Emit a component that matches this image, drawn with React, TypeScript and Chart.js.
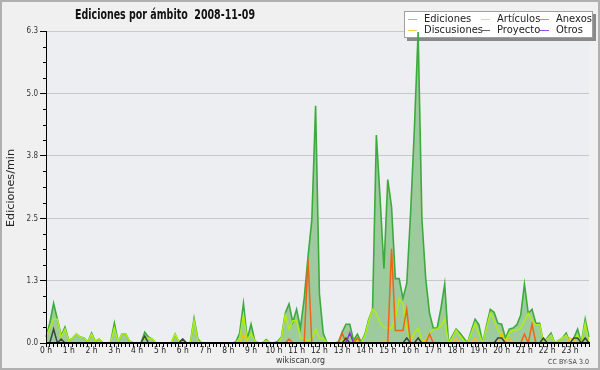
import React, { useEffect, useRef } from "react";
import { Chart, registerables } from "chart.js";

Chart.register(...registerables);

const TITLE = "Ediciones por ámbito  2008-11-09";
const Y_TITLE = "Ediciones/min";
const FOOTER = "wikiscan.org";
const LICENSE = "CC BY-SA 3.0";

const HOURS = [
  "0 h", "1 h", "2 h", "3 h", "4 h", "5 h", "6 h", "7 h", "8 h", "9 h", "10 h", "11 h",
  "12 h", "13 h", "14 h", "15 h", "16 h", "17 h", "18 h", "19 h", "20 h", "21 h", "22 h", "23 h",
];
const MINUTES = ["00", "10", "20", "30", "40", "50"];
const SLOTS = HOURS.flatMap((h) => MINUTES.map((m) => h.replace(" h", ":") + m));

const Y_TICKS = [0, 1.26, 2.52, 3.78, 5.04, 6.3];
const Y_LABELS = ["0.0", "1.3", "2.5", "3.8", "5.0", "6.3"];

// 10-minute slots, 12 per row (2 hours per row)
const EDICIONES = [
  0.12, 0.4, 0.8, 0.48, 0.15, 0.32, 0.05, 0.1, 0.18, 0.12, 0.1, 0.02,
  0.2, 0.03, 0.08, 0, 0, 0, 0.4, 0.02, 0.18, 0.18, 0.04, 0,
  0, 0, 0.22, 0.12, 0.08, 0, 0, 0, 0, 0, 0.18, 0.02,
  0.08, 0, 0, 0.5, 0.08, 0, 0, 0, 0, 0, 0, 0,
  0, 0, 0.02, 0.2, 0.8, 0.08, 0.38, 0.04, 0, 0, 0.07, 0,
  0, 0.03, 0.12, 0.6, 0.79, 0.42, 0.68, 0.3, 0.9, 1.74, 2.48, 4.79,
  1.0, 0.2, 0, 0, 0, 0.02, 0.22, 0.38, 0.38, 0.05, 0.18, 0.02,
  0.18, 0.48, 0.68, 4.2, 2.9, 1.5, 3.3, 2.75, 1.3, 1.3, 0.9, 1.2,
  2.6, 4.3, 6.28, 2.5, 1.3, 0.6, 0.3, 0.3, 0.7, 1.19, 0, 0.14,
  0.28, 0.2, 0.1, 0, 0.25, 0.48, 0.37, 0, 0.35, 0.68, 0.62, 0.4,
  0.38, 0.1, 0.28, 0.3, 0.37, 0.56, 1.19, 0.6, 0.68, 0.4, 0.4, 0,
  0.1, 0.2, 0, 0.05, 0.1, 0.2, 0, 0.1, 0.28, 0, 0.48, 0.12,
];

const ARTICULOS = [
  0.12, 0.3, 0.48, 0.48, 0.12, 0.28, 0.05, 0.1, 0.18, 0.12, 0.1, 0.02,
  0.18, 0.03, 0.08, 0, 0, 0, 0.3, 0.02, 0.18, 0.18, 0.04, 0,
  0, 0, 0.1, 0.1, 0.08, 0, 0, 0, 0, 0, 0.18, 0.02,
  0, 0, 0, 0.45, 0.05, 0, 0, 0, 0, 0, 0, 0,
  0, 0, 0, 0.1, 0.57, 0.05, 0.2, 0.04, 0, 0, 0.05, 0,
  0, 0, 0.1, 0.57, 0.28, 0.45, 0.45, 0.1, 0.1, 0.05, 0.1, 0.28,
  0.1, 0.1, 0, 0, 0, 0, 0.05, 0.1, 0.15, 0.02, 0.08, 0,
  0.15, 0.45, 0.68, 0.6, 0.4, 0.32, 0.3, 0.3, 0.5, 0.89, 0.8, 0.3,
  0.05, 0.2, 0.3, 0.05, 0.05, 0.2, 0.28, 0.28, 0.35, 0.48, 0, 0.1,
  0.26, 0.15, 0.05, 0, 0.2, 0.4, 0.2, 0, 0.3, 0.6, 0.45, 0.27,
  0.15, 0.05, 0.2, 0.26, 0.26, 0.3, 0.45, 0.6, 0.45, 0.37, 0.37, 0,
  0.08, 0.16, 0, 0.05, 0.1, 0.16, 0, 0.05, 0.16, 0, 0.4, 0,
];

const ANEXOS = [
  0, 0, 0, 0, 0, 0, 0, 0, 0, 0, 0, 0,
  0, 0, 0, 0, 0, 0, 0, 0, 0, 0, 0, 0,
  0, 0, 0, 0, 0, 0, 0, 0, 0, 0, 0, 0,
  0, 0, 0, 0, 0, 0, 0, 0, 0, 0, 0, 0,
  0, 0, 0, 0, 0, 0, 0, 0, 0, 0, 0, 0,
  0, 0, 0, 0, 0.08, 0, 0, 0, 0, 1.7, 0, 0,
  0, 0, 0, 0, 0, 0, 0.2, 0, 0, 0, 0.1, 0,
  0, 0, 0, 0, 0, 0, 0, 1.9, 0.25, 0.25, 0.25, 0.68,
  0, 0, 0, 0, 0, 0.18, 0, 0, 0, 0, 0, 0,
  0, 0, 0, 0, 0, 0, 0, 0, 0, 0, 0, 0,
  0, 0, 0, 0, 0, 0, 0.18, 0, 0.38, 0, 0, 0,
  0, 0, 0, 0, 0, 0, 0, 0, 0, 0, 0, 0,
];

const DISCUSIONES = [
  0, 0, 0, 0, 0, 0, 0, 0, 0, 0, 0, 0,
  0, 0, 0, 0, 0, 0, 0, 0, 0, 0, 0, 0,
  0, 0, 0, 0, 0, 0, 0, 0, 0, 0, 0, 0,
  0, 0, 0, 0, 0, 0, 0, 0, 0, 0, 0, 0,
  0, 0, 0, 0, 0.18, 0, 0, 0, 0, 0, 0, 0,
  0, 0, 0, 0, 0.05, 0, 0, 0, 0, 0, 0, 0,
  0, 0, 0, 0, 0, 0, 0, 0, 0, 0, 0, 0,
  0, 0, 0, 0, 0, 0.05, 0, 0, 0, 0, 0, 0,
  0, 0, 0, 0, 0.05, 0, 0, 0, 0, 0, 0, 0,
  0.1, 0, 0, 0, 0, 0.1, 0, 0, 0, 0, 0, 0,
  0.2, 0, 0.1, 0, 0, 0, 0, 0, 0, 0, 0, 0,
  0, 0, 0, 0, 0, 0, 0.1, 0.05, 0, 0, 0, 0,
];

const PROYECTO = [
  0, 0, 0.28, 0, 0.08, 0, 0, 0, 0, 0, 0, 0,
  0, 0, 0, 0, 0, 0, 0, 0, 0, 0, 0, 0,
  0, 0, 0.14, 0, 0, 0, 0, 0, 0, 0, 0, 0,
  0.08, 0, 0, 0, 0, 0, 0, 0, 0, 0, 0, 0,
  0, 0, 0, 0, 0, 0, 0, 0, 0, 0, 0, 0,
  0, 0, 0, 0, 0, 0, 0, 0, 0, 0, 0, 0,
  0, 0, 0, 0, 0, 0, 0, 0.1, 0, 0, 0, 0,
  0, 0, 0, 0, 0, 0, 0, 0, 0, 0, 0, 0.1,
  0, 0, 0.1, 0, 0, 0, 0, 0, 0, 0, 0, 0,
  0, 0, 0, 0, 0, 0, 0, 0, 0, 0, 0, 0.1,
  0.1, 0, 0, 0, 0, 0, 0, 0, 0, 0, 0, 0.1,
  0, 0, 0, 0, 0, 0, 0, 0.1, 0.1, 0, 0.1, 0,
];

const OTROS = [
  0, 0, 0, 0, 0, 0, 0, 0, 0, 0, 0, 0,
  0, 0, 0, 0, 0, 0, 0, 0, 0, 0, 0, 0,
  0, 0, 0, 0, 0, 0, 0, 0, 0, 0, 0, 0,
  0, 0, 0, 0, 0, 0, 0, 0, 0, 0, 0, 0,
  0, 0, 0, 0, 0, 0, 0, 0, 0, 0, 0, 0,
  0, 0, 0, 0, 0, 0, 0, 0, 0, 0, 0, 0,
  0, 0, 0, 0, 0, 0, 0, 0, 0.2, 0, 0, 0,
  0, 0, 0, 0, 0, 0, 0, 0, 0, 0, 0, 0,
  0, 0, 0, 0, 0, 0, 0, 0, 0, 0, 0, 0,
  0, 0, 0, 0, 0, 0, 0, 0, 0, 0, 0, 0,
  0, 0, 0, 0, 0, 0, 0, 0, 0, 0, 0, 0,
  0, 0, 0, 0, 0, 0, 0, 0, 0, 0, 0, 0,
];

const LEGEND = [
  { label: "Ediciones", color: "#84cf84", col: 0, row: 0 },
  { label: "Artículos", color: "#c6f060", col: 1, row: 0 },
  { label: "Anexos", color: "#f08250", col: 2, row: 0 },
  { label: "Discusiones", color: "#f6d050", col: 0, row: 1 },
  { label: "Proyecto", color: "#666666", col: 1, row: 1 },
  { label: "Otros", color: "#9a4ae6", col: 2, row: 1 },
];

const SANS = "'DejaVu Sans', 'Liberation Sans', sans-serif";

function drawText(
  ctx: CanvasRenderingContext2D,
  s: string,
  x: number,
  y: number,
  font: string,
  align: "left" | "center" | "right",
  sx: number,
  color: string,
  rotate = false
) {
  ctx.save();
  ctx.font = font;
  ctx.fillStyle = color;
  ctx.textBaseline = "middle";
  ctx.textAlign = "left";
  const w = ctx.measureText(s).width * sx;
  const off = align === "center" ? -w / 2 : align === "right" ? -w : 0;
  ctx.translate(x, y);
  if (rotate) ctx.rotate(-Math.PI / 2);
  ctx.translate(off, 0);
  ctx.scale(sx, 1);
  ctx.fillText(s, 0, 0);
  ctx.restore();
}

function fitScale(ctx: CanvasRenderingContext2D, s: string, font: string, target: number) {
  ctx.save();
  ctx.font = font;
  const w = ctx.measureText(s).width;
  ctx.restore();
  return w > 0 ? target / w : 1;
}

const decorPlugin = {
  id: "decor",
  beforeDraw(chart: any) {
    const { ctx, chartArea: a, width, height } = chart;
    ctx.save();
    ctx.fillStyle = "#f0f0f0";
    ctx.fillRect(0, 0, width, height);
    ctx.fillStyle = "#eceef1";
    ctx.fillRect(a.left, a.top, a.right - a.left, a.bottom - a.top);
    ctx.restore();
  },
  beforeDatasetsDraw(chart: any) {
    const { ctx } = chart;
    const lx = 404, ly = 11, lw = 189, lh = 27;
    ctx.save();
    ctx.fillStyle = "#8a8a8a";
    ctx.fillRect(lx + 3, ly + 3, lw, lh);
    ctx.fillStyle = "#ffffff";
    ctx.fillRect(lx, ly, lw, lh);
    ctx.strokeStyle = "#a0a0a0";
    ctx.lineWidth = 1;
    ctx.strokeRect(lx + 0.5, ly + 0.5, lw - 1, lh - 1);
    const colX = [408, 481, 540];
    const textX = [424, 497, 556];
    const rowY = [19, 30];
    const font = `11px ${SANS}`;
    const sx = fitScale(ctx, "Discusiones", font, 59);
    LEGEND.forEach((it) => {
      const y = Math.round(rowY[it.row]) + 0.5;
      ctx.strokeStyle = it.color;
      ctx.lineWidth = 1;
      ctx.beginPath();
      ctx.moveTo(colX[it.col], y);
      ctx.lineTo(colX[it.col] + 9, y);
      ctx.stroke();
      drawText(ctx, it.label, textX[it.col], rowY[it.row], font, "left", sx, "#222");
    });
    ctx.restore();
  },
  afterDraw(chart: any) {
    const { ctx, chartArea: a, scales } = chart;
    const ys = scales.y;
    const xs = scales.x;
    ctx.save();
    // minor y ticks
    ctx.strokeStyle = "#000";
    ctx.lineWidth = 1;
    for (let k = 0; k < Y_TICKS.length - 1; k++) {
      for (let m = 1; m < 4; m++) {
        const v = Y_TICKS[k] + ((Y_TICKS[k + 1] - Y_TICKS[k]) * m) / 4;
        const py = Math.round(ys.getPixelForValue(v)) + 0.5;
        ctx.beginPath();
        ctx.moveTo(a.left - 3, py);
        ctx.lineTo(a.left, py);
        ctx.stroke();
      }
    }
    // axis lines on top of the data
    ctx.fillStyle = "#000";
    ctx.fillRect(a.left, a.bottom - 1, a.right - a.left + 1, 2);
    ctx.fillRect(a.left, a.top, 1, a.bottom - a.top + 1);
    // y labels
    const yFont = `9px ${SANS}`;
    ys.ticks.forEach((t: any, i: number) => {
      drawText(ctx, String(t.label), a.left - 8, ys.getPixelForTick(i), yFont, "right", 0.8, "#333");
    });
    // x labels
    const xFont = `9.5px ${SANS}`;
    xs.ticks.forEach((t: any, i: number) => {
      if (t.label) {
        drawText(ctx, String(t.label), xs.getPixelForTick(i), a.bottom + 8, xFont, "center", 0.8, "#222");
      }
    });
    // title
    const tFont = `bold 14px ${SANS}`;
    drawText(ctx, TITLE, 165, 15, tFont, "center", fitScale(ctx, TITLE, tFont, 180), "#111");
    // y axis title
    const ytFont = `11px ${SANS}`;
    drawText(ctx, Y_TITLE, 11, 188, ytFont, "center", fitScale(ctx, Y_TITLE, ytFont, 78), "#222", true);
    // footer
    const fFont = `9px ${SANS}`;
    drawText(ctx, FOOTER, 300.5, 361, fFont, "center", fitScale(ctx, FOOTER, fFont, 49), "#333");
    const cFont = `7px ${SANS}`;
    drawText(ctx, LICENSE, 589, 362, cFont, "right", fitScale(ctx, LICENSE, cFont, 41), "#444");
    // outer frame
    ctx.strokeStyle = "#b0b0b0";
    ctx.lineWidth = 2;
    ctx.strokeRect(1, 1, 598, 368);
    ctx.restore();
  },
};

export default function App() {
  const ref = useRef<HTMLCanvasElement | null>(null);

  useEffect(() => {
    if (!ref.current) return;
    const line = (label: string, data: number[], color: string, extra: any = {}) => ({
      label,
      data,
      borderColor: color,
      borderWidth: 1.5,
      pointRadius: 0,
      tension: 0,
      fill: false,
      ...extra,
    });
    const chart = new Chart(ref.current, {
      type: "line",
      data: {
        labels: SLOTS,
        datasets: [
          line("Otros", OTROS, "#8a2be2"),
          line("Proyecto", PROYECTO, "#3c463c"),
          line("Anexos", ANEXOS, "#f06414"),
          line("Discusiones", DISCUSIONES, "#f0c020"),
          line("Artículos", ARTICULOS, "#b0ee10"),
          line("Ediciones", EDICIONES, "#3daa3d", {
            fill: "origin",
            backgroundColor: "#9ecb9e",
            borderWidth: 1.6,
          }),
        ],
      },
      options: {
        animation: false,
        responsive: false,
        devicePixelRatio: 1,
        layout: { padding: { top: 31, right: 11, left: 0, bottom: 0 } },
        plugins: {
          legend: { display: false },
          tooltip: { enabled: false },
          title: { display: false },
        },
        scales: {
          x: {
            type: "category",
            offset: false,
            grid: {
              drawOnChartArea: false,
              drawTicks: true,
              tickLength: 4,
              tickColor: "#000",
              offset: false,
            },
            border: { display: true, color: "#000", width: 1 },
            ticks: {
              display: false,
              autoSkip: false,
              maxRotation: 0,
              minRotation: 0,
              callback: (_v: any, i: number) => (i % 6 === 0 ? HOURS[i / 6] : ""),
            },
            afterFit: (s: any) => {
              s.height = 27;
            },
          },
          y: {
            type: "linear",
            min: 0,
            max: 6.3,
            afterBuildTicks: (s: any) => {
              s.ticks = Y_TICKS.map((v) => ({ value: v }));
            },
            grid: {
              color: "#c8c8c8",
              tickLength: 6,
              tickColor: "#000",
            },
            border: { display: true, color: "#000", width: 1 },
            ticks: {
              display: false,
              callback: (_v: any, i: number) => Y_LABELS[i],
            },
            afterFit: (s: any) => {
              s.width = 46;
            },
          },
        },
      },
      plugins: [decorPlugin],
    } as any);
    return () => chart.destroy();
  }, []);

  return (
    <div style={{ position: "absolute", left: 0, top: 0, width: 600, height: 370 }}>
      <canvas ref={ref} width={600} height={370} style={{ width: 600, height: 370, display: "block" }} />
    </div>
  );
}
